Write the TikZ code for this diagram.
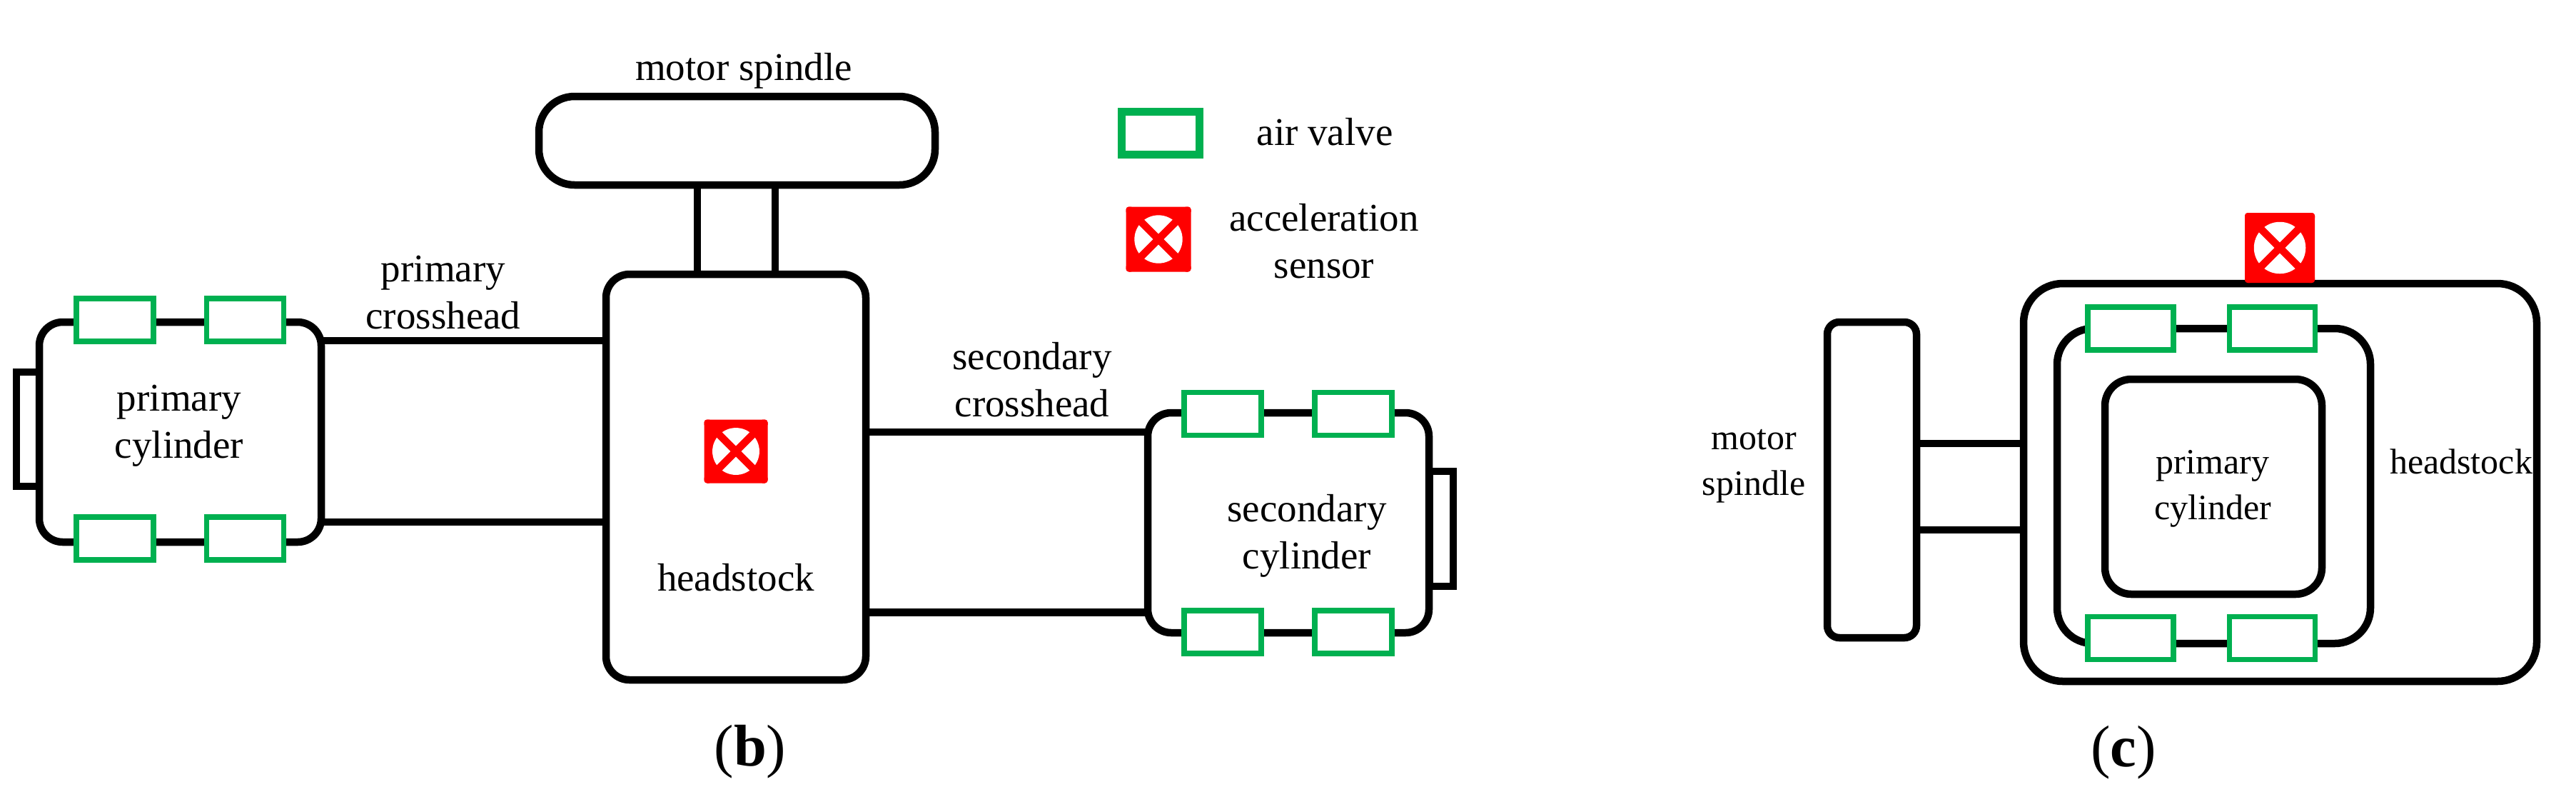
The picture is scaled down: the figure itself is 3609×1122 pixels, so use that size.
\documentclass[tikz,border=0pt]{standalone}
\usepackage{fontspec}
\setmainfont{Liberation Serif}
\definecolor{valvegreen}{HTML}{00B050}
\tikzset{
  dim/.style 2 args={minimum width=#1*0.2pt, minimum height=#2*0.2pt},
  part/.style={draw=black, line width=2.1pt, fill=white, inner sep=0pt, outer sep=0pt, rounded corners=6.6pt},
  capbox/.style={draw=black, line width=2pt, inner sep=0pt, outer sep=0pt},
  valve/.style={draw=valvegreen, line width=1.5pt, fill=white, inner sep=0pt, outer sep=0pt, dim={#1}{60}},
  valve/.default=108,
  rod/.style={draw=black, line width=2.1pt},
  sensor/.style={fill=red, rounded corners=0.8pt, inner sep=0pt, outer sep=0pt, minimum size=#1*0.2pt,
    path picture={
      \fill[white] (path picture bounding box.center) circle ({#1*0.37});
      \draw[red, line width=2.1pt] (path picture bounding box.north west) -- (path picture bounding box.south east);
      \draw[red, line width=2.1pt] (path picture bounding box.north east) -- (path picture bounding box.south west);
    }},
  lbl/.style={inner sep=0pt, align=center, font=\fontsize{11}{13.2}\selectfont},
  lblc/.style={inner sep=0pt, align=center, font=\fontsize{10}{12.8}\selectfont},
  tag/.style={inner sep=0pt, anchor=base, font=\fontsize{16.5}{18}\selectfont},
}
\begin{document}
\begin{tikzpicture}[x=0.2pt, y=-0.2pt]
	\useasboundingbox (0,0) rectangle (3609,1122);

	% panel (b)
	\node[capbox, dim={32}{160}] (pricap) at (39,601) {};
	\node[part, dim={395}{308}] (pricyl) at (252.5,605) {};
	\node[part, dim={364}{568}] (headb) at (1031,668) {};
	\node[part, dim={555}{124}, rounded corners=10pt] (motorb) at (1032.5,197) {};
	\node[capbox, dim={33}{161}] (seccap) at (2019.5,740.5) {};
	\node[part, dim={394}{308}] (seccyl) at (1805,732) {};

	\draw[rod] (pricyl.east |- 0,477) -- (headb.west |- 0,477);
	\draw[rod] (pricyl.east |- 0,731) -- (headb.west |- 0,731);
	\draw[rod] (headb.east |- 0,605) -- (seccyl.west |- 0,605);
	\draw[rod] (headb.east |- 0,857.5) -- (seccyl.west |- 0,857.5);
	\draw[rod] (motorb.south -| 977,0) -- (headb.north -| 977,0);
	\draw[rod] (motorb.south -| 1086,0) -- (headb.north -| 1086,0);

	\node[valve] (pv1) at (161,448) {};
	\node[valve] (pv2) at (343.5,448) {};
	\node[valve] (pv3) at (161,754) {};
	\node[valve] (pv4) at (343.5,754) {};
	\node[valve] (sv1) at (1713,579.5) {};
	\node[valve] (sv2) at (1896,579.5) {};
	\node[valve] (sv3) at (1713,885) {};
	\node[valve] (sv4) at (1896,885) {};

	\node[sensor=89] (sensb) at (1031,632) {};

	\node[lbl, anchor=base] (motortxt) at (1042,112) {motor spindle};
	\node[lbl] (pxhtxt) at (621,410) {primary\\crosshead};
	\node[lbl] (pcyltxt) at (251,596) {primary\\cylinder};
	\node[lbl, anchor=base] (headtxt) at (1031,827) {headstock};
	\node[lbl] (sxhtxt) at (1446,532) {secondary\\crosshead};
	\node[lbl] (scyltxt) at (1831,750) {secondary\\cylinder};
	\node[tag] (capb) at (1051,1072) {(\textbf{b})};

	% legend
	\node[valve, draw=valvegreen, line width=2.2pt, minimum width=21.8pt] (legvalve) at (1626,186.5) {};
	\node[sensor=91] (legsens) at (1623,335) {};
	\node[lbl, anchor=base] (airtxt) at (1856,203) {air valve};
	\node[lbl] (senstxt) at (1855,338) {acceleration\\sensor};

	% panel (c)
	\node[part, dim={125}{442}, rounded corners=3.4pt] (motorc) at (2622.5,672) {};
	\node[part, dim={719}{557}, rounded corners=11pt] (headc) at (3194.5,675.5) {};
	\node[part, dim={439}{441}, rounded corners=10pt] (carrc) at (3101.5,680.5) {};
	\node[part, dim={304}{301}, rounded corners=7.4pt] (pcylc) at (3101,681.5) {};

	\draw[rod] (motorc.east |- 0,621) -- (headc.west |- 0,621);
	\draw[rod] (motorc.east |- 0,742) -- (headc.west |- 0,742);

	\node[valve=120] (cv1) at (2985,460) {};
	\node[valve=120] (cv2) at (3183.5,460) {};
	\node[valve=120] (cv3) at (2985,893.5) {};
	\node[valve=120] (cv4) at (3183.5,893.5) {};

	\node[sensor=98] (sensc) at (3194,347) {};

	\node[lblc] (mtxtc) at (2457,653) {motor\\spindle};
	\node[lblc] (pcyltxtc) at (3100,684) {primary\\cylinder};
	\node[lblc, anchor=base] (headtxtc) at (3448,663) {headstock};
	\node[tag] (capc) at (2975,1073) {(\textbf{c})};

\end{tikzpicture}
\end{document}
